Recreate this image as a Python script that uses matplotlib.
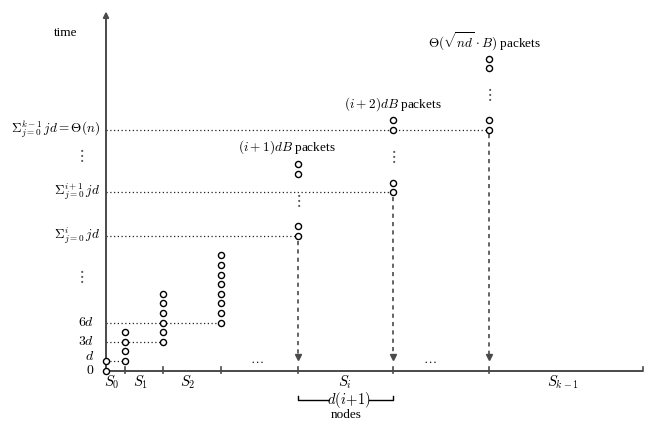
import matplotlib
matplotlib.use("Agg")
matplotlib.rcParams['mathtext.fontset'] = 'cm'
matplotlib.rcParams['font.family'] = 'serif'
matplotlib.rcParams['font.serif'] = ['Liberation Serif', 'DejaVu Serif']
import matplotlib.pyplot as plt

# x positions of the stage boundaries (node index, schematic) and time levels
stage_x = [106, 125, 163, 221, 298, 393, 489]
axis_end = 643

# packet levels (time, in units of d-steps) stacked at each boundary
s0_levels = [0, 1]
s1_levels = [1, 2, 3, 4]
s2_levels = [3, 4, 5, 6, 7, 8]
s3_levels = [5, 6, 7, 8, 9, 10, 11, 12]
si_levels = [14, 15, 20.5, 21.5]
si1_levels = [18.6, 19.5, 25.1, 26.1]
sk_levels = [25.1, 26.1, 31.5, 32.4]
columns = [s0_levels, s1_levels, s2_levels, s3_levels, si_levels, si1_levels, sk_levels]

# dotted guide lines: (time level, boundary index they run to)
guides = [(1, 1), (3, 2), (5, 3), (14, 4), (18.6, 5), (25.1, 6)]

ytick_levels = [0, 1.5, 3, 5, 14, 18.6, 25.1]
ytick_labels = [r'$0$', r'$d$', r'$3d$', r'$6d$',
                r'$\Sigma_{j=0}^{i}\,jd$',
                r'$\Sigma_{j=0}^{i+1}\,jd$',
                r'$\Sigma_{j=0}^{k-1}\,jd=\Theta(n)$']

stage_labels = [r'$S_0$', r'$S_1$', r'$S_2$', r'$S_i$', r'$S_{k-1}$']
stage_label_x = [112, 141, 188, 345, 563]

packet_labels = [r'$(i+1)dB$ packets', r'$(i+2)dB$ packets',
                 r'$\Theta(\sqrt{nd}\cdot B)$ packets']
packet_label_x = [287, 393, 484]
packet_label_y = [23.3, 27.8, 34.2]

FS = 9.5
px = 9.6  # pixels per time level
y0 = 370.5

fig = plt.figure(figsize=(6.56, 4.24), dpi=100)
ax = fig.add_axes([0, 0, 1, 1])
ax.set_xlim(0, 656)
ax.set_ylim(-(424 - y0) / px, y0 / px)
ax.axis('off')

axc = '#4a4a4a'
# axes
ax.annotate('', xy=(stage_x[0], 37.4), xytext=(stage_x[0], 0),
            arrowprops=dict(arrowstyle='-|>', color=axc, lw=1.4,
                            mutation_scale=8, shrinkA=0, shrinkB=0))
ax.plot([stage_x[0], axis_end], [0, 0], color=axc, lw=1.4, solid_capstyle='butt')
ax.plot([axis_end, axis_end], [0, 0.35], color=axc, lw=1.2)
for x in stage_x[1:]:
    ax.plot([x, x], [-0.3, 0.35], color=axc, lw=1.2)

# dotted guides
for lvl, ci in guides:
    ax.plot([stage_x[0], stage_x[ci]], [lvl, lvl], color='#222222',
            lw=0.9, ls=(0, (1, 2)))

# packets
for x, lv in zip(stage_x, columns):
    ax.plot([x] * len(lv), lv, 'o', ms=4.4, mfc='white', mec='black',
            mew=1.0, ls='none', zorder=5)

# vertical ellipses inside the tall columns
for x, lv in zip(stage_x[4:], columns[4:]):
    mid = (lv[1] + lv[2]) / 2
    ax.text(x, mid, r'$\vdots$', ha='center', va='center', fontsize=12, color='#555555')

# dashed arrows down to the axis
for x, lv in zip(stage_x[4:], columns[4:]):
    ax.plot([x, x], [lv[0] - 0.5, 1.5], color=axc, lw=1.2, ls=(0, (2.5, 2.5)))
    ax.plot([x], [1.45], marker='v', ms=4.5, color=axc, mec=axc)

# y labels
for lvl, lab in zip(ytick_levels, ytick_labels):
    small = lvl < 10
    ax.text(94 if small else 100, lvl, lab, ha='right', va='center',
            fontsize=FS + 0.5 if small else FS)
ax.text(81, 9.8, r'$\vdots$', ha='center', va='center', fontsize=12, color='#555555')
ax.text(81, 22.4, r'$\vdots$', ha='center', va='center', fontsize=12, color='#555555')
ax.text(66, 35.2, 'time', ha='center', va='center', fontsize=FS)

# stage labels
for x, lab in zip(stage_label_x, stage_labels):
    ax.text(x, -1.25, lab, ha='center', va='center', fontsize=FS + 1)
for x in [257, 430]:
    ax.text(x, 1.1, r'$\ldots$', ha='center', va='center', fontsize=FS)

# packet count labels
for x, y, lab in zip(packet_label_x, packet_label_y, packet_labels):
    ax.text(x, y, lab, ha='center', va='center', fontsize=FS)

# bracket for the width of S_i
by = -3.1
ax.plot([stage_x[4], stage_x[4], 328], [by + 0.4, by, by], color='black', lw=1.0)
ax.plot([369, stage_x[5], stage_x[5]], [by, by, by + 0.4], color='black', lw=1.0)
ax.text(349, by, r'$d(i\!+\!1)$', ha='center', va='center', fontsize=FS + 1)
ax.text(346, -4.65, 'nodes', ha='center', va='center', fontsize=FS)

fig.savefig('out.png', dpi=100)
